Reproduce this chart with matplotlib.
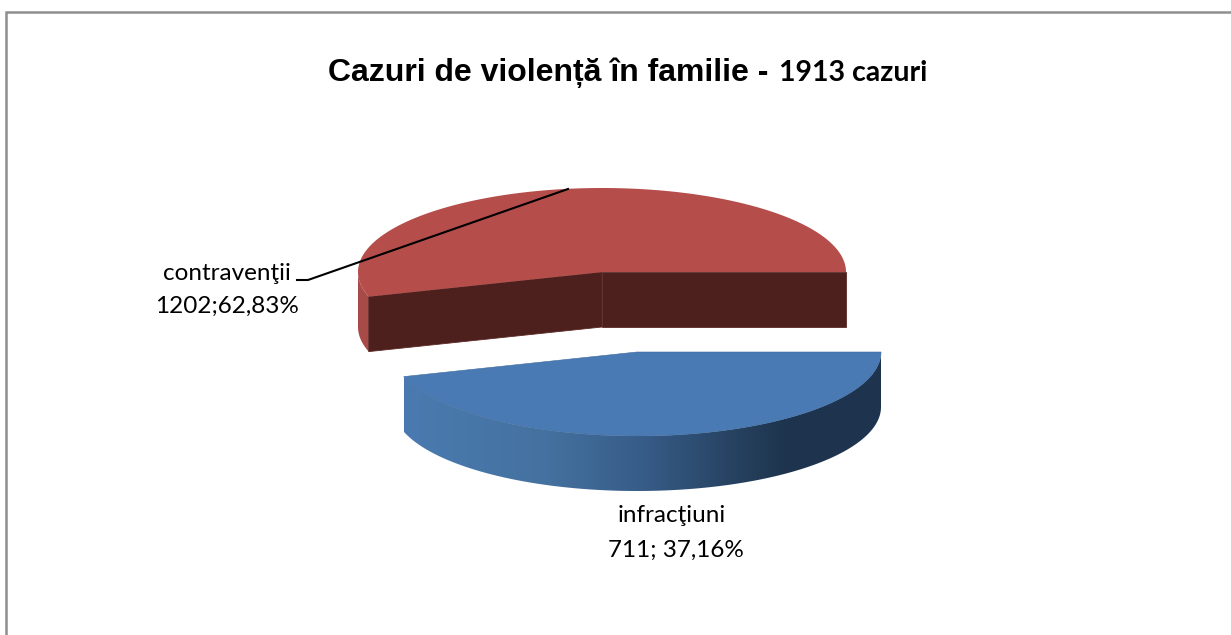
#!/usr/bin/env python
import matplotlib
matplotlib.use('Agg')
import matplotlib.pyplot as plt
import numpy as np
from matplotlib.colors import LinearSegmentedColormap
from matplotlib.patches import Polygon

# Data
categories = ['infracţiuni', 'contravenţii']
counts = [711, 1202]
label_values = ['711; 37,16%', '1202;62,83%']
title_main = 'Cazuri de violență în familie - '
title_total = '1913 cazuri'

# Layout in image pixels
W, H = 1231, 635
rx, ry, depth = 244, 84, 55
blue_c = (637, 352)
red_c = (602, 272)
# Excel's perspective widens the front slice on screen
view_skew = 1.218


def arc(c, a0, a1, dy=0, n=200):
    t = np.radians(np.linspace(a0, a1, n))
    return np.column_stack([c[0] + rx*np.cos(t), c[1] + ry*np.sin(t) + dy])


fig = plt.figure(figsize=(W/100, H/100), dpi=100)
ax = fig.add_axes([0, 0, 1, 1])
ax.set_xlim(0, W)
ax.set_ylim(H, 0)
ax.axis('off')

# Frame: only top and left show in the crop
ax.plot([5.5, 5.5, W], [H, 12, 12], color='#8e8e8e', lw=1.8, solid_joinstyle='miter')

sweep = 360 * counts[0] / sum(counts) * view_skew

# Red slice (contravenţii)
rim = np.vstack([arc(red_c, sweep, 180), arc(red_c, 180, sweep, depth)])
ax.add_patch(Polygon(rim, fc='#A84A47', ec='none'))
corner = arc(red_c, sweep, sweep, n=1)[0]
right = arc(red_c, 0, 0, n=1)[0]
for p in (corner, right):
    face = [red_c, p, (p[0], p[1]+depth), (red_c[0], red_c[1]+depth)]
    ax.add_patch(Polygon(face, fc='#4D1F1D', ec='#5c2a27', lw=0.6))
top = np.vstack([[red_c], arc(red_c, sweep, 360)])
ax.add_patch(Polygon(top, fc='#B54D4A', ec='none'))

# Blue slice (infracţiuni)
side = np.vstack([arc(blue_c, 0, sweep), arc(blue_c, sweep, 0, depth)])
cmap = LinearSegmentedColormap.from_list('side', [
    (0, '#4A7AB0'), (0.3, '#44719F'), (0.5, '#375C88'),
    (0.7, '#26415F'), (0.8, '#1E344E'), (1, '#1E344E')])
side_patch = Polygon(side, fc='none', ec='none')
ax.add_patch(side_patch)
im = ax.imshow(np.linspace(0, 1, 256)[None, :], cmap=cmap, aspect='auto',
               extent=(side[:, 0].min(), side[:, 0].max(), side[:, 1].max(), side[:, 1].min()))
im.set_clip_path(side_patch)
ax.set_xlim(0, W)
ax.set_ylim(H, 0)
top = np.vstack([[blue_c], arc(blue_c, 0, sweep)])
ax.add_patch(Polygon(top, fc='#4A7AB4', ec='#3f6b9e', lw=0.4))

# Leader line
ax.plot([297, 308, 568], [280, 280, 189], color='black', lw=1.5)

# Labels
label_font = dict(family=['Lato', 'DejaVu Sans'], fontsize=17.5, color='black',
                  ha='center', va='center')
ax.text(227, 273, categories[1], **label_font)
ax.text(227, 306, label_values[1], **label_font)
ax.text(672, 516, categories[0], **label_font)
ax.text(675.5, 550, label_values[0], **label_font)

# Title
ax.text(328, 80.5, title_main, family=['Liberation Sans', 'DejaVu Sans'], fontsize=23,
        fontweight='bold', ha='left', va='baseline')
ax.text(779, 81, title_total, family=['Lato', 'DejaVu Sans'], fontsize=20.5,
        fontweight='bold', ha='left', va='baseline')

fig.savefig('out.png', dpi=100)
